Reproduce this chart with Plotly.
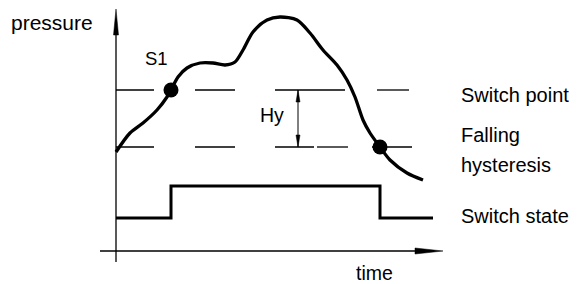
import plotly.graph_objects as go

# ---- data (time / pressure units, origin at axis crossing) ----
curve_t = [0, 14, 27, 41, 51, 55, 62, 71, 84, 97, 109, 119, 127, 137, 151, 164,
           181, 194, 207, 221, 231, 239, 247, 254, 264, 274, 291, 307]
curve_p = [99, 118, 128, 141, 154, 161, 174, 183, 188, 188, 186, 189, 201, 219,
           231, 234, 231, 218, 201, 186, 171, 154, 131, 118, 104, 91, 78, 71]

switch_point = 161
falling_hyst = 104

switch_t = [0, 55, 264, 317]
switch_state = [33, 65, 33, 33]

dots_t = [55, 264]
dots_p = [161, 104]

top_dashes = [(0, 38), (79, 119), (159, 229), (261, 293)]
bottom_dashes = [(0, 38), (79, 119), (159, 198), (201, 232), (256, 296)]

labels = ["pressure", "S1", "Hy", "Switch point", "Falling", "hysteresis", "Switch state", "time"]

FAMILY = "Arial, Liberation Sans, sans-serif"

fig = go.Figure()

# dashed reference lines
for a, b in top_dashes:
    fig.add_shape(type="line", x0=a, x1=b, y0=switch_point, y1=switch_point,
                  line=dict(color="black", width=1.3))
for a, b in bottom_dashes:
    fig.add_shape(type="line", x0=a, x1=b, y0=falling_hyst, y1=falling_hyst,
                  line=dict(color="black", width=1.3))

# axes
fig.add_shape(type="line", x0=0, x1=0, y0=-11, y1=225, line=dict(color="black", width=1.3))
fig.add_shape(type="path", path="M -2.5,216 L 0,242 L 2.5,216 Z",
              fillcolor="black", line=dict(color="black", width=0.5))
fig.add_shape(type="line", x0=-16, x1=305, y0=0, y1=0, line=dict(color="black", width=1.3))
fig.add_shape(type="path", path="M 299,3 L 327,0 L 299,-3 Z",
              fillcolor="black", line=dict(color="black", width=0.5))

# Hy double arrow
hx = 182
fig.add_shape(type="line", x0=hx, x1=hx, y0=falling_hyst, y1=switch_point,
              line=dict(color="black", width=1))
fig.add_shape(type="path", path=f"M {hx-2},{switch_point-12} L {hx},{switch_point} L {hx+2},{switch_point-12} Z",
              fillcolor="black", line=dict(color="black", width=0.5))
fig.add_shape(type="path", path=f"M {hx-2},{falling_hyst+12} L {hx},{falling_hyst} L {hx+2},{falling_hyst+12} Z",
              fillcolor="black", line=dict(color="black", width=0.5))

# pressure curve
fig.add_trace(go.Scatter(x=curve_t, y=curve_p, mode="lines",
                         line=dict(color="black", width=3.3, shape="spline", smoothing=0.8),
                         hoverinfo="skip"))
# switch state
fig.add_trace(go.Scatter(x=switch_t, y=switch_state, mode="lines",
                         line=dict(color="black", width=3, shape="hv"), hoverinfo="skip"))
# switching dots
fig.add_trace(go.Scatter(x=dots_t, y=dots_p, mode="markers",
                         marker=dict(color="black", size=15), hoverinfo="skip"))

# labels
pos = {
    "pressure": (-107, 228.5, "left", 21),
    "S1": (40, 193, "center", 18.5),
    "Hy": (156, 136.5, "center", 19.5),
    "Switch point": (343, 156.5, "left", 20),
    "Falling": (343, 116, "left", 20),
    "hysteresis": (343, 86.5, "left", 20),
    "Switch state": (343, 35.5, "left", 20),
    "time": (258, -22, "center", 19.5),
}
for lab in labels:
    x, y, xa, sz = pos[lab]
    fig.add_annotation(x=x, y=y, text=lab, showarrow=False, xanchor=xa, yanchor="middle",
                       font=dict(family=FAMILY, size=sz, color="black"))

# page body has an 8px margin: figure covers page pixels 8..578 x 8..284
fig.update_layout(
    width=570, height=276, margin=dict(l=0, r=0, t=0, b=0),
    paper_bgcolor="white", plot_bgcolor="white", showlegend=False,
    xaxis=dict(range=[-108, 462], visible=False, fixedrange=True),
    yaxis=dict(range=[-33, 243], visible=False, fixedrange=True),
)
fig.write_html("out.html")
